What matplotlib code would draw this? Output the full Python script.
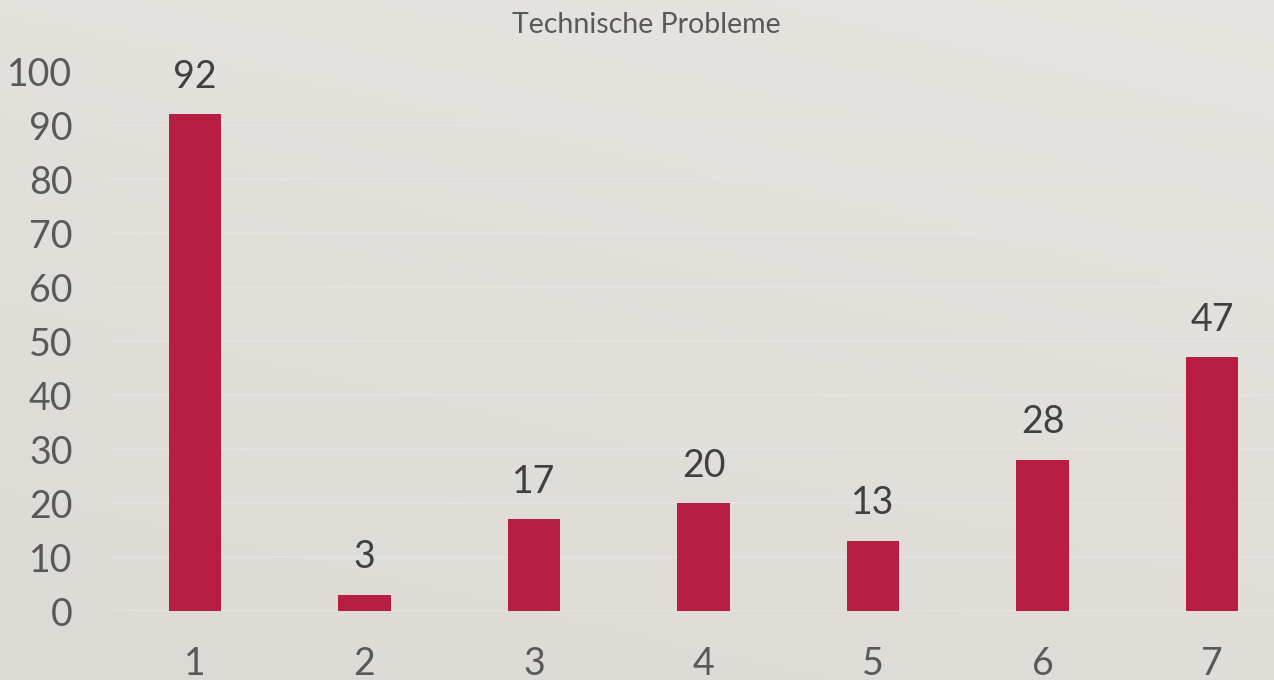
import matplotlib
matplotlib.use("Agg")
import matplotlib.pyplot as plt
import numpy as np

categories = ["1", "2", "3", "4", "5", "6", "7"]
values = [92, 3, 17, 20, 13, 28, 47]
yticks = [0, 10, 20, 30, 40, 50, 60, 70, 80, 90, 100]
title = "Technische Probleme"

plt.rcParams['font.family'] = ['Lato', 'DejaVu Sans']

W, H = 1274, 680
fig = plt.figure(figsize=(W / 100, H / 100), dpi=100)

# background gradient
bg = fig.add_axes([0, 0, 1, 1], zorder=-10)
yy, xx = np.mgrid[0:1:200j, 0:1:400j]
c_top = np.array([0.905, 0.895, 0.880])
c_bot = np.array([0.865, 0.855, 0.835])
t = (0.7 * yy + 0.3 * (1 - xx))
img = c_top[None, None, :] * (1 - t[..., None]) + c_bot[None, None, :] * t[..., None]
bg.imshow(img, aspect='auto', extent=[0, 1, 0, 1], origin='upper')
bg.set_axis_off()

ax = fig.add_axes([110 / W, 69 / H, 1187 / W, 540 / H])
ax.patch.set_alpha(0)
x = np.arange(1, len(categories) + 1)
ax.bar(x, values, width=0.31, color="#B81E42", zorder=3)
ax.set_xlim(0.5, len(categories) + 0.5)
ax.set_ylim(0, 100)
ax.set_yticks(yticks)
ax.set_yticklabels([str(v) for v in yticks])
ax.set_xticks(x)
ax.set_xticklabels(categories)
ax.tick_params(axis='both', length=0, labelsize=27, labelcolor="#595959")
ax.tick_params(axis='y', pad=27)
ax.tick_params(axis='x', pad=25)
for s in ax.spines.values():
    s.set_visible(False)
ax.grid(axis='y', color="#E6E4E0", linewidth=1.2, zorder=0)
ax.set_axisbelow(True)

for xi, v in zip(x, values):
    ax.annotate(str(v), (xi, v), xytext=(0, 14), textcoords='offset points',
                ha='center', va='bottom', fontsize=27, color="#404040")

fig.text(646 / W, 1 - 25 / H, title, ha='center', va='center', fontsize=20.5, color="#595959")

fig.savefig("out.png", dpi=100)
